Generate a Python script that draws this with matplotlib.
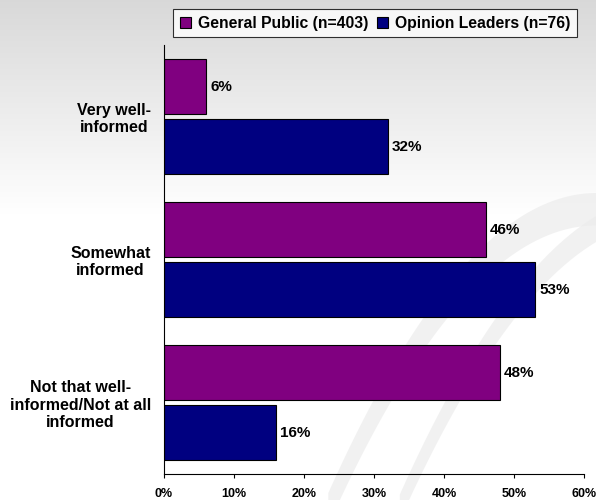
import matplotlib
matplotlib.use("Agg")
import matplotlib.pyplot as plt
import numpy as np

categories = ["Very well-\ninformed", "Somewhat\ninformed", "Not that well-\ninformed/Not at all\ninformed"]
series_names = ["General Public (n=403)", "Opinion Leaders (n=76)"]
general_public = [6, 46, 48]
opinion_leaders = [32, 53, 16]
xticks = [0, 10, 20, 30, 40, 50, 60]
colors = ["#800080", "#000080"]

plt.rcParams['font.family'] = ['Liberation Sans', 'DejaVu Sans']
fig = plt.figure(figsize=(5.96, 5.0), dpi=100)

# background gradient
bg = fig.add_axes([0, 0, 1, 1], zorder=-10)
grad = np.ones(256)
grad[:110] = np.linspace(0.85, 1.0, 110)
img = np.repeat(grad[:, None, None], 3, axis=2)
bg.imshow(img, aspect='auto', extent=[0, 1, 0, 1], origin='upper')
# faint swooshes
t = np.linspace(0, 1, 200)
for off, w in [(0.0, 0.05), (0.12, 0.04)]:
    xs = 0.55 + off + 0.45 * t
    ys = 0.0 + 0.6 * (1 - (1 - t) ** 2)
    bg.fill_between(xs, ys - w, ys + w * 0.3, color="#ececec", lw=0, alpha=0.7)
bg.set_xlim(0, 1); bg.set_ylim(0, 1)
bg.axis('off')

ax = fig.add_axes([164/596, 26/500, 420/596, 429/500])
ax.patch.set_alpha(0)

n = len(categories)
y = np.arange(n)
h = 55/143
gap = 5/143
gp_pos = y - (h + gap) / 2
ol_pos = y + (h + gap) / 2
ax.barh(gp_pos, general_public, height=h, color=colors[0], edgecolor='black', linewidth=0.8, label=series_names[0])
ax.barh(ol_pos, opinion_leaders, height=h, color=colors[1], edgecolor='black', linewidth=0.8, label=series_names[1])

for p, v in zip(gp_pos, general_public):
    ax.annotate(f"{v}%", (v, p), xytext=(3, 0), textcoords='offset points',
                va='center', ha='left', fontsize=11, fontweight='bold')
for p, v in zip(ol_pos, opinion_leaders):
    ax.annotate(f"{v}%", (v, p), xytext=(3, 0), textcoords='offset points',
                va='center', ha='left', fontsize=11, fontweight='bold')

ax.set_xlim(0, 60)
ax.set_ylim(n - 0.5, -0.5)
ax.set_xticks(xticks)
ax.set_xticklabels([f"{t}%" for t in xticks], fontsize=9, fontweight='bold')
ax.set_yticks(y)
ax.set_yticklabels(categories, fontsize=11.5, fontweight='bold', multialignment='center')
ax.tick_params(axis='y', length=0, pad=9.5)
ax.tick_params(axis='x', length=3, direction='out', pad=7)
for s in ['top', 'right']:
    ax.spines[s].set_visible(False)
for s in ['left', 'bottom']:
    ax.spines[s].set_linewidth(0.8)

leg = fig.legend(loc='upper left', bbox_to_anchor=(173/596, 1 - 9/500), ncol=2, frameon=True,
                 fancybox=False, edgecolor='black', prop={'weight': 'bold', 'size': 11.3},
                 handlelength=0.7, handleheight=0.7, handletextpad=0.5, columnspacing=0.5,
                 borderpad=0.42, borderaxespad=0)
leg.get_frame().set_linewidth(0.8)
leg.get_frame().set_facecolor('white')

fig.savefig("out.png", dpi=100)
